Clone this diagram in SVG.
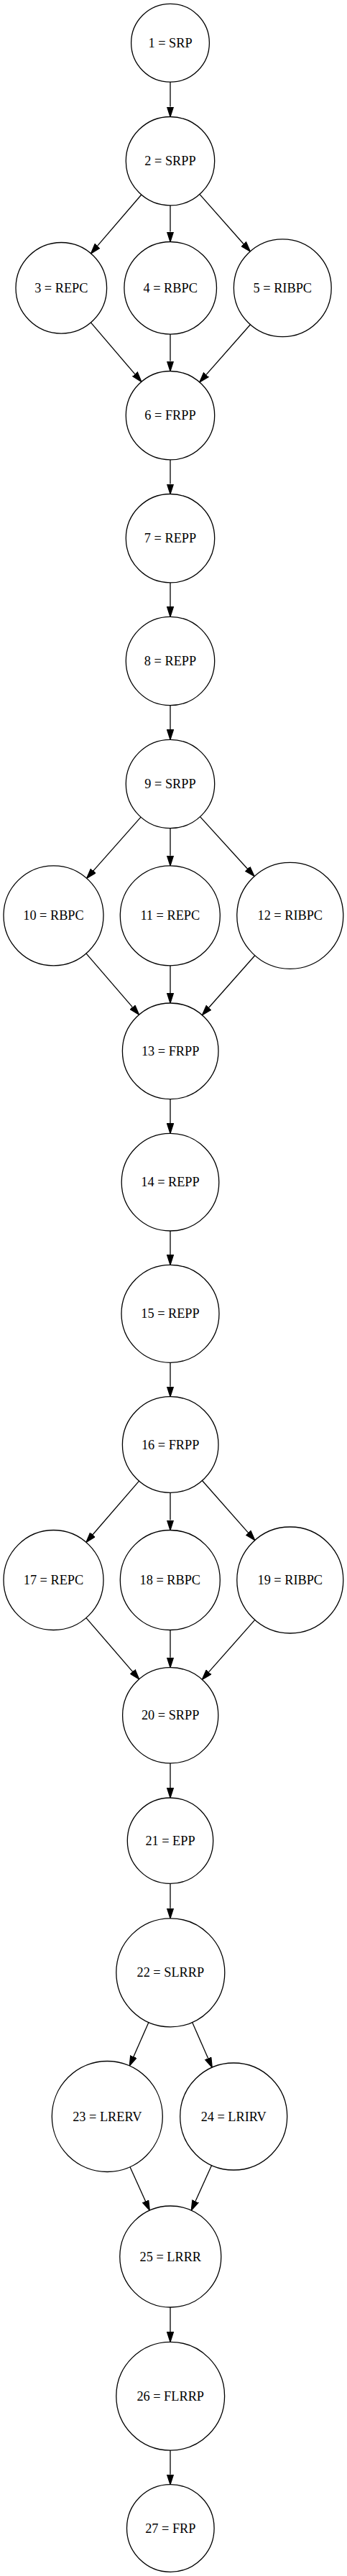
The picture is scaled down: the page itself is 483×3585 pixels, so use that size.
<svg xmlns="http://www.w3.org/2000/svg" width="483" height="3585" viewBox="0 0 483 3585">
<style>
.n circle{fill:none;stroke:#000;stroke-width:1.3}
.n text{font-family:"Liberation Serif","Times New Roman",serif;font-size:18.3px;text-anchor:middle;fill:#000}
.e line{stroke:#000;stroke-width:1.3;marker-end:url(#ah)}
</style>
<defs>
<marker id="ah" viewBox="0 0 14 10" refX="0" refY="5" markerWidth="14" markerHeight="10" markerUnits="userSpaceOnUse" orient="auto">
<path d="M0,0.5 L14,5 L0,9.5 z" fill="#000" stroke="#000" stroke-width="1.3"/>
</marker>
</defs>
<rect width="483" height="3585" fill="#fff"/>
<g id="edges" class="e">
<line x1="237" y1="114.1" x2="237" y2="148.5"/>
<line x1="237" y1="285.9" x2="237" y2="322.5"/>
<line x1="196.8" y1="271.0" x2="135.67" y2="342.16"/>
<line x1="277.9" y1="270.4" x2="339.02" y2="339.47"/>
<line x1="237" y1="465.1" x2="237" y2="502.5"/>
<line x1="126.44" y1="448.91" x2="187.8" y2="520.66"/>
<line x1="348.41" y1="451.75" x2="287.05" y2="521.39"/>
<line x1="237" y1="639.9" x2="237" y2="673.5"/>
<line x1="237" y1="810.9" x2="237" y2="844.3"/>
<line x1="237" y1="981.7" x2="237" y2="1015.3"/>
<line x1="196.07" y1="1137.17" x2="129.9" y2="1211.81"/>
<line x1="237" y1="1152.7" x2="237" y2="1190.8"/>
<line x1="278.53" y1="1136.64" x2="344.57" y2="1209.2"/>
<line x1="119.91" y1="1326.91" x2="184.4" y2="1401.63"/>
<line x1="237" y1="1343.8" x2="237" y2="1382"/>
<line x1="354.8" y1="1329.74" x2="290.7" y2="1402.26"/>
<line x1="237" y1="1529.6" x2="237" y2="1563.4"/>
<line x1="237" y1="1713" x2="237" y2="1746.3"/>
<line x1="237" y1="1896.3" x2="237" y2="1929.7"/>
<line x1="193.55" y1="2061.07" x2="129.06" y2="2135.79"/>
<line x1="237" y1="2077.3" x2="237" y2="2115.5"/>
<line x1="281.43" y1="2060.55" x2="345.53" y2="2133.07"/>
<line x1="119.94" y1="2251.59" x2="184.51" y2="2326.31"/>
<line x1="237" y1="2268.5" x2="237" y2="2306.7"/>
<line x1="354.76" y1="2254.43" x2="290.62" y2="2326.93"/>
<line x1="237" y1="2453.9" x2="237" y2="2488"/>
<line x1="237" y1="2621.4" x2="237" y2="2655.8"/>
<line x1="206.92" y1="2814.41" x2="185.91" y2="2862.19"/>
<line x1="267.65" y1="2814.43" x2="289.62" y2="2864.47"/>
<line x1="180.98" y1="3015.69" x2="202.54" y2="3063.47"/>
<line x1="294.59" y1="3013.42" x2="272.02" y2="3063.47"/>
<line x1="237" y1="3211" x2="237" y2="3245.3"/>
<line x1="237" y1="3410.1" x2="237" y2="3443.7"/>
</g>
<g id="n1" class="n"><circle cx="237" cy="59.7" r="54.4"/><text x="237" y="65.7">1 = SRP</text></g>
<g id="n2" class="n"><circle cx="237" cy="224.2" r="61.7"/><text x="237" y="230.2">2 = SRPP</text></g>
<g id="n3" class="n"><circle cx="85.3" cy="400.8" r="63.3"/><text x="85.3" y="406.8">3 = REPC</text></g>
<g id="n4" class="n"><circle cx="237.2" cy="400.8" r="64.3"/><text x="237.2" y="406.8">4 = RBPC</text></g>
<g id="n5" class="n"><circle cx="393.3" cy="400.8" r="67.9"/><text x="393.3" y="406.8">5 = RIBPC</text></g>
<g id="n6" class="n"><circle cx="237" cy="578.2" r="61.7"/><text x="237" y="584.2">6 = FRPP</text></g>
<g id="n7" class="n"><circle cx="237" cy="749.2" r="61.7"/><text x="237" y="755.2">7 = REPP</text></g>
<g id="n8" class="n"><circle cx="237" cy="920" r="61.7"/><text x="237" y="926">8 = REPP</text></g>
<g id="n9" class="n"><circle cx="237" cy="1091" r="61.7"/><text x="237" y="1097">9 = SRPP</text></g>
<g id="n10" class="n"><circle cx="74.5" cy="1274.3" r="69.5"/><text x="74.5" y="1280.3">10 = RBPC</text></g>
<g id="n11" class="n"><circle cx="236.8" cy="1274.3" r="69.5"/><text x="236.8" y="1280.3">11 = REPC</text></g>
<g id="n12" class="n"><circle cx="403.8" cy="1274.3" r="74"/><text x="403.8" y="1280.3">12 = RIBPC</text></g>
<g id="n13" class="n"><circle cx="237.2" cy="1462.8" r="66.8"/><text x="237.2" y="1468.8">13 = FRPP</text></g>
<g id="n14" class="n"><circle cx="237" cy="1645.2" r="67.8"/><text x="237" y="1651.2">14 = REPP</text></g>
<g id="n15" class="n"><circle cx="237" cy="1828.3" r="68"/><text x="237" y="1834.3">15 = REPP</text></g>
<g id="n16" class="n"><circle cx="237.2" cy="2010.5" r="66.8"/><text x="237.2" y="2016.5">16 = FRPP</text></g>
<g id="n17" class="n"><circle cx="74.5" cy="2199" r="69.5"/><text x="74.5" y="2205">17 = REPC</text></g>
<g id="n18" class="n"><circle cx="236.8" cy="2199" r="69.5"/><text x="236.8" y="2205">18 = RBPC</text></g>
<g id="n19" class="n"><circle cx="403.8" cy="2199" r="74"/><text x="403.8" y="2205">19 = RIBPC</text></g>
<g id="n20" class="n"><circle cx="237.2" cy="2387.3" r="66.6"/><text x="237.2" y="2393.3">20 = SRPP</text></g>
<g id="n21" class="n"><circle cx="237" cy="2561.7" r="59.7"/><text x="237" y="2567.7">21 = EPP</text></g>
<g id="n22" class="n"><circle cx="237.3" cy="2745.3" r="75.5"/><text x="237.3" y="2751.3">22 = SLRRP</text></g>
<g id="n23" class="n"><circle cx="149.3" cy="2945.5" r="77"/><text x="149.3" y="2951.5">23 = LRERV</text></g>
<g id="n24" class="n"><circle cx="325.2" cy="2945.5" r="74.5"/><text x="325.2" y="2951.5">24 = LRIRV</text></g>
<g id="n25" class="n"><circle cx="237.3" cy="3140.5" r="70.5"/><text x="237.3" y="3146.5">25 = LRRR</text></g>
<g id="n26" class="n"><circle cx="237.2" cy="3334.7" r="75.4"/><text x="237.2" y="3340.7">26 = FLRRP</text></g>
<g id="n27" class="n"><circle cx="237.3" cy="3518.5" r="60.8"/><text x="237.3" y="3524.5">27 = FRP</text></g>
</svg>
